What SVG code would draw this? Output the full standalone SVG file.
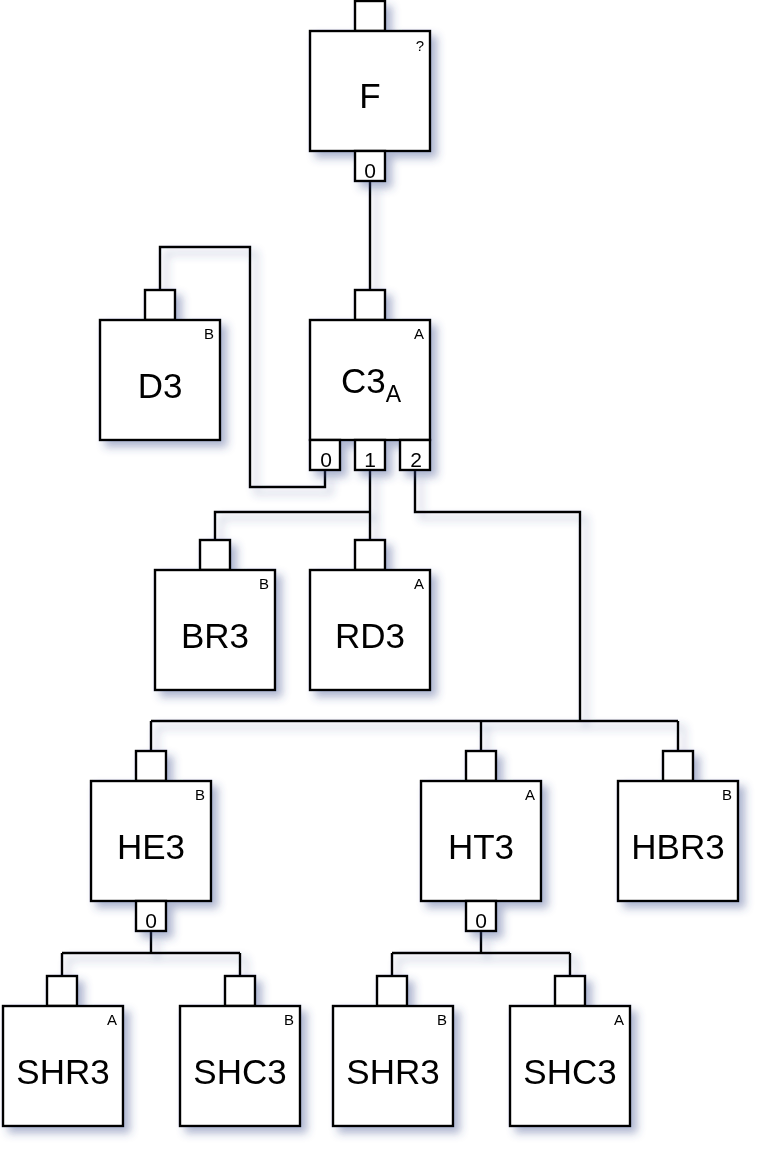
<svg xmlns="http://www.w3.org/2000/svg" width="771" height="1161" viewBox="0 0 771 1161">
<defs>
<filter id="sh" x="-20%" y="-20%" width="150%" height="150%">
<feDropShadow dx="6" dy="6" stdDeviation="4" flood-color="#3a4a8a" flood-opacity="0.4"/>
</filter>
</defs>
<style>
.box{fill:#fff;stroke:#000;stroke-width:2.4}
.wire{fill:none;stroke:#000;stroke-width:2.4}
.lbl{font-family:"Liberation Sans",Arial,sans-serif;font-size:35px;text-anchor:middle;fill:#000}
.sub{font-size:23px}
.cor{font-family:"Liberation Sans",Arial,sans-serif;font-size:15px;text-anchor:end;fill:#000}
.pl{font-family:"Liberation Sans",Arial,sans-serif;font-size:21px;text-anchor:middle;fill:#000}
</style>
<rect width="771" height="1161" fill="#fff"/>
<g id="connectors" filter="url(#sh)">
<path class="wire" d="M370 181 V290"/>
<path class="wire" d="M325 470 V487 H250 V247 H160 V290"/>
<path class="wire" d="M370 470 V540 M370 512 H215 V540"/>
<path class="wire" d="M415 470 V512 H580 V721 M151 721 H678 M151 721 V751 M481 721 V751 M678 721 V751"/>
<path class="wire" d="M151 931 V953 M62 953 H240 M62 953 V976 M240 953 V976"/>
<path class="wire" d="M481 931 V953 M392 953 H570 M392 953 V976 M570 953 V976"/>
</g>
<g id="node-F" filter="url(#sh)">
<rect class="box" x="355" y="1" width="30" height="30"/>
<rect class="box" x="310" y="31" width="120" height="120"/>
<rect class="box" x="355" y="151" width="30" height="30"/>
<text class="cor" x="424" y="51">?</text>
<text class="lbl" x="370" y="108">F</text>
<text class="pl" x="370" y="178">0</text>
</g>
<g id="node-D3" filter="url(#sh)">
<rect class="box" x="145" y="290" width="30" height="30"/>
<rect class="box" x="100" y="320" width="120" height="120"/>
<text class="cor" x="214" y="339">B</text>
<text class="lbl" x="160" y="398">D3</text>
</g>
<g id="node-C3" filter="url(#sh)">
<rect class="box" x="355" y="290" width="30" height="30"/>
<rect class="box" x="310" y="320" width="120" height="120"/>
<rect class="box" x="310" y="440" width="30" height="30"/>
<rect class="box" x="355" y="440" width="30" height="30"/>
<rect class="box" x="400" y="440" width="30" height="30"/>
<text class="cor" x="424" y="339">A</text>
<text class="lbl" x="371" y="393">C3<tspan class="sub" dy="9">A</tspan></text>
<text class="pl" x="326" y="467">0</text>
<text class="pl" x="370" y="467">1</text>
<text class="pl" x="416" y="467">2</text>
</g>
<g id="node-BR3" filter="url(#sh)">
<rect class="box" x="200" y="540" width="30" height="30"/>
<rect class="box" x="155" y="570" width="120" height="120"/>
<text class="cor" x="269" y="589">B</text>
<text class="lbl" x="215" y="648">BR3</text>
</g>
<g id="node-RD3" filter="url(#sh)">
<rect class="box" x="355" y="540" width="30" height="30"/>
<rect class="box" x="310" y="570" width="120" height="120"/>
<text class="cor" x="424" y="589">A</text>
<text class="lbl" x="370" y="648">RD3</text>
</g>
<g id="node-HE3" filter="url(#sh)">
<rect class="box" x="136" y="751" width="30" height="30"/>
<rect class="box" x="91" y="781" width="120" height="120"/>
<rect class="box" x="136" y="901" width="30" height="30"/>
<text class="cor" x="205" y="800">B</text>
<text class="lbl" x="151" y="859">HE3</text>
<text class="pl" x="151" y="928">0</text>
</g>
<g id="node-HT3" filter="url(#sh)">
<rect class="box" x="466" y="751" width="30" height="30"/>
<rect class="box" x="421" y="781" width="120" height="120"/>
<rect class="box" x="466" y="901" width="30" height="30"/>
<text class="cor" x="535" y="800">A</text>
<text class="lbl" x="481" y="859">HT3</text>
<text class="pl" x="481" y="928">0</text>
</g>
<g id="node-HBR3" filter="url(#sh)">
<rect class="box" x="663" y="751" width="30" height="30"/>
<rect class="box" x="618" y="781" width="120" height="120"/>
<text class="cor" x="732" y="800">B</text>
<text class="lbl" x="678" y="859">HBR3</text>
</g>
<g id="node-SHR3-A" filter="url(#sh)">
<rect class="box" x="47" y="976" width="30" height="30"/>
<rect class="box" x="3" y="1006" width="120" height="120"/>
<text class="cor" x="117" y="1025">A</text>
<text class="lbl" x="63" y="1084">SHR3</text>
</g>
<g id="node-SHC3-B" filter="url(#sh)">
<rect class="box" x="225" y="976" width="30" height="30"/>
<rect class="box" x="180" y="1006" width="120" height="120"/>
<text class="cor" x="294" y="1025">B</text>
<text class="lbl" x="240" y="1084">SHC3</text>
</g>
<g id="node-SHR3-B" filter="url(#sh)">
<rect class="box" x="377" y="976" width="30" height="30"/>
<rect class="box" x="333" y="1006" width="120" height="120"/>
<text class="cor" x="447" y="1025">B</text>
<text class="lbl" x="393" y="1084">SHR3</text>
</g>
<g id="node-SHC3-A" filter="url(#sh)">
<rect class="box" x="555" y="976" width="30" height="30"/>
<rect class="box" x="510" y="1006" width="120" height="120"/>
<text class="cor" x="624" y="1025">A</text>
<text class="lbl" x="570" y="1084">SHC3</text>
</g>
</svg>
